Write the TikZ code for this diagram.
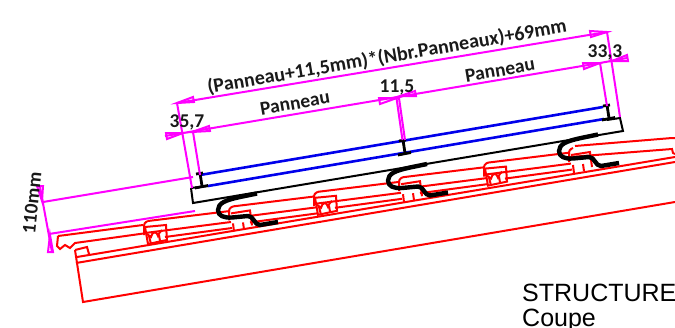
\documentclass[tikz,border=0pt]{standalone}
\usepackage{fontspec}
\setmainfont{Carlito}
\newfontfamily\arialfont{Liberation Sans}
\tikzset{
  redline/.style={draw={rgb,255:red,255;green,0;blue,0},line width=2pt,line join=miter},
  blueline/.style={draw={rgb,255:red,0;green,0;blue,235},line width=2.6pt},
  blackline/.style={draw=black,line width=2pt},
  clipline/.style={draw=black,line width=2.8pt},
  hookline/.style={draw=black,line width=4.4pt,line join=round},
  magline/.style={draw={rgb,255:red,255;green,0;blue,255},line width=2pt},
  dimtext/.style={font=\bfseries\fontsize{19.5}{20}\selectfont,inner sep=0pt,text=black!90},
  titletext/.style={font=\arialfont\fontsize{25}{25}\selectfont,inner sep=0pt,anchor=base west}
}
\begin{document}
\begin{tikzpicture}[x=1pt,y=-1pt]
\useasboundingbox (0,0) rectangle (675,327);
\clip (0,0) rectangle (675,327);
% red: rafter and battens
\draw[redline] (76,263) -- (675,162);
\draw[redline] (77,257) -- (675,157);
\draw[redline] (75,250) -- (83,302) -- (675,202);
\draw[redline] (75,250) -- (87,247) -- (89,254);
% first tile with curl
\draw[redline] (58,236) -- (143,225);
\draw[redline] (58,236) -- (57,246) -- (60,249) -- (65,245) -- (70,248) -- (75,243) -- (147,233);
% tiles
\foreach \k in {0,1,2,3,4,5}{
  \begin{scope}[shift={({145+85*\k},{225-14.6*\k})}]
    \draw[redline,rounded corners=2.5pt] (-1,10) -- (-1,-2) -- (3,-4);
    \ifnum\k<5
      \draw[redline] (3,-4) -- (85,-14);
      \draw[redline] (0,8) -- (86,-3);
      \draw[redline] (20,12) -- (87,3);
    \fi
  \end{scope}
}
\draw[redline] (575,146) -- (672,138) -- (675,138);
\draw[redline] (570,157) -- (672,149) -- (673,153) -- (675,154);
% fixings
\foreach \k in {0,2,4}{
  \begin{scope}[shift={({145+85*\k},{225-14.6*\k})}]
    \draw[redline] (0,2) -- (21,0) -- (22,15) -- (3,19) -- cycle;
    \draw[redline] (2,9) -- (6,12) .. controls (7,6) and (12,6) .. (13,11) .. controls (14,8) and (15,7) .. (17,5);
    \draw[redline] (4,11) -- (6,19);
    \draw[redline] (14,10) -- (15,16);
  \end{scope}
}
\foreach \k in {1,3,5}{
  \begin{scope}[shift={({145+85*\k},{225-14.6*\k})}]
    \draw[redline] (1,3) -- (20,0) -- (22,15);
    \draw[redline] (3,13) -- (4,21);
    \draw[redline] (13,12) -- (14,19);
  \end{scope}
}
% black support
\draw[blackline] (191,188) -- (193,203) -- (623,131) -- (620,118) -- (607,120);
\draw[blackline] (191,188) -- (208,186);
% blue panels
\draw[blueline] (200,175) -- (603,107);
\draw[blueline] (208,186) -- (604,119);
% clamps
\foreach \cx/\cy in {200/173,403/140,607/105}{
  \begin{scope}[shift={(\cx,\cy)}]
    \draw[clipline] (-4,1) -- (3,0);
    \draw[clipline] (0,0) -- (2,13);
    \draw[clipline] (-5,15) -- (8,12.5);
  \end{scope}
}
% hooks
\foreach \hx/\hy in {0/0,170/-29.5,341/-59}{
  \begin{scope}[shift={(\hx,\hy)}]
    \draw[hookline] (257,193.5) -- (240,197) .. controls (226,200) and (218,203) .. (218,210)
      .. controls (218,216) and (224,218) .. (232,217.5) -- (248,216) .. controls (254,216) and (254,225) .. (260,225) -- (278,222);
  \end{scope}
}
% magenta
\draw[magline] (177,103) -- (607,32);
\draw[magline] (177,103) -- (192,188);
\draw[magline] (607,32) -- (620,117);
\draw[magline] (165,136) -- (600,63);
\draw[magline] (600,63) -- (627,58);
\draw[magline] (193,132) -- (200,175);
\draw[magline] (396.5,98) -- (402.5,140);
\draw[magline] (399,98) -- (405,140);
\draw[magline] (600,63) -- (607,106);
\draw[magline] (43,202) -- (193,177);
\draw[magline] (49,234) -- (195,211);
\draw[magline] (40,187) -- (52,252);
% arrowheads
\draw[magline] (177,103) -- (193,97) -- (194,102) -- cycle;
\draw[magline] (607,32) -- (590,31) -- (591,37) -- cycle;
\draw[magline] (183,133) -- (166,133) -- (167,139) -- cycle;
\draw[magline] (192,132) -- (209,126) -- (210,131) -- cycle;
\draw[magline] (397,98) -- (379,98) -- (380,104) -- cycle;
\draw[magline] (400,96) -- (415,91) -- (416,96) -- cycle;
\draw[magline] (600,63) -- (583,63) -- (584,69) -- cycle;
\draw[magline] (612,61) -- (627,55) -- (628,61) -- cycle;
\draw[magline] (42,201) -- (37,186) -- (43,186) -- cycle;
\draw[magline] (50,235) -- (48,252) -- (53,252) -- cycle;
% labels
\node[dimtext,font=\bfseries\fontsize{20}{20}\selectfont,rotate=9.7] (total) at (387,57) {(Panneau+11,5mm)*(Nbr.Panneaux)+69mm};
\node[dimtext,rotate=9.7] (p1) at (295,103) {Panneau};
\node[dimtext,rotate=9.7] (p2) at (500,70) {Panneau};
\node[dimtext] (a) at (397,87) {11,5};
\node[dimtext] (b) at (187,122) {35,7};
\node[dimtext] (c) at (605,52) {33,3};
\node[dimtext,rotate=84] (h) at (32,203) {110mm};
\node[titletext] (s) at (522,301.5) {STRUCTURE};
\node[titletext] (t) at (522,326) {Coupe};
\end{tikzpicture}
\end{document}
